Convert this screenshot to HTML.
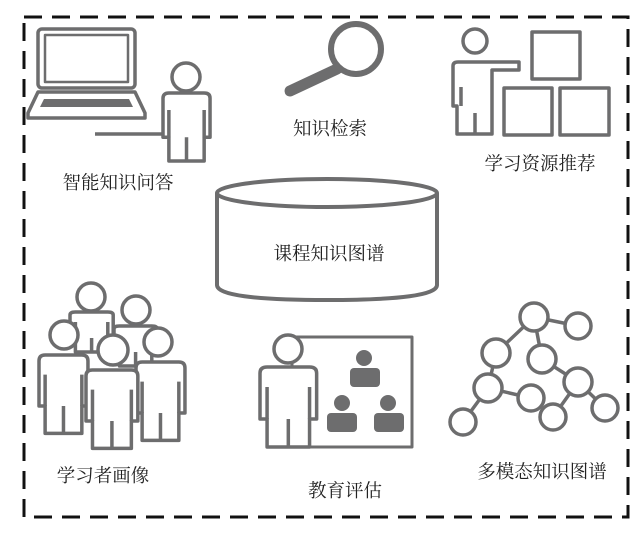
<!DOCTYPE html>
<html><head><meta charset="utf-8"><style>
body{margin:0;background:#fff;}
svg{display:block}
text{font-family:"Liberation Serif","Noto Serif CJK SC","Noto Sans CJK SC",serif;font-size:18.5px;fill:#222;text-anchor:middle}
.o{fill:#fff;stroke:#6d6d6e;stroke-width:3.5;vector-effect:non-scaling-stroke;stroke-linejoin:round}
.l{fill:none;stroke:#6d6d6e;stroke-width:3.5;vector-effect:non-scaling-stroke}
</style></head><body>
<svg width="642" height="534" viewBox="0 0 642 534">
<defs>
<g id="p">
<path class="o" d="M6,0 H42 Q48,0 48,6 V52 H42 V80 H6 V52 H0 V6 Q0,0 6,0 Z"/>
<path class="l" d="M6,20 V52 M42,20 V52 M24,52 V80"/>
</g>
</defs>
<rect x="24" y="17" width="604" height="500" fill="none" stroke="#111" stroke-width="3" stroke-dasharray="18 10"/>

<!-- laptop -->
<rect x="38" y="29" width="97" height="59" rx="4" class="o"/>
<rect x="45" y="35" width="83" height="47" class="o" style="stroke-width:2.5"/>
<path class="o" d="M38,92 H135 L145,113 V118 H28 V113 Z"/>
<path d="M44,99 H129 L133,107 H40 Z" fill="#6d6d6e"/>
<line x1="95" y1="134" x2="170" y2="134" class="l"/>
<circle cx="186" cy="77" r="14" class="o"/>
<use href="#p" transform="translate(163,93) scale(0.98,0.85)"/>

<!-- magnifier -->
<line x1="337" y1="69" x2="290" y2="91" stroke="#6d6d6e" stroke-width="11" stroke-linecap="round"/>
<circle cx="356" cy="49" r="25" fill="#fff" stroke="#6d6d6e" stroke-width="6"/>
<text x="330" y="135">知识检索</text>

<!-- resources -->
<circle cx="475" cy="41" r="12" class="o"/>
<path class="o" d="M458,62 H519 V70 H492 V134 H457 V106 H453 V66 Q453,62 458,62 Z"/>
<path class="l" d="M461,87 V106 M475,113 V134"/>
<rect x="532" y="32" width="48" height="47" class="o"/>
<rect x="504" y="88" width="48" height="47" class="o"/>
<rect x="560" y="88" width="49" height="47" class="o"/>
<text x="540" y="170">学习资源推荐</text>
<text x="118" y="189">智能知识问答</text>

<!-- cylinder -->
<path class="o" style="stroke-width:4" d="M217,193 V285 Q217,300 327,300 Q437,300 437,285 V193"/>
<ellipse cx="327" cy="193" rx="110" ry="14" class="o" style="stroke-width:4"/>
<text x="329" y="260">课程知识图谱</text>

<!-- group -->
<circle cx="91" cy="297" r="14" class="o"/>
<circle cx="136" cy="310" r="14" class="o"/>
<use href="#p" transform="translate(70,312) scale(0.9,0.5)"/>
<use href="#p" transform="translate(114,326) scale(0.9,0.5)"/>
<circle cx="64" cy="335" r="14" class="o"/>
<use href="#p" transform="translate(39,355) scale(1.02,0.98)"/>
<circle cx="158" cy="342" r="14" class="o"/>
<use href="#p" transform="translate(136,362) scale(1.02,0.98)"/>
<circle cx="113" cy="350" r="15" class="o"/>
<use href="#p" transform="translate(86,370) scale(1.08,0.98)"/>
<text x="103" y="482">学习者画像</text>

<!-- education -->
<rect x="292" y="337" width="120" height="110" class="o" style="stroke-width:3"/>
<circle cx="288" cy="349" r="14" class="o"/>
<use href="#p" transform="translate(260,367) scale(1.18,1)"/>
<g fill="#6d6d6e">
<circle cx="364" cy="358" r="8"/><rect x="350" y="368" width="30" height="19" rx="4"/>
<circle cx="342" cy="403" r="8"/><rect x="327" y="413" width="30" height="19" rx="4"/>
<circle cx="388" cy="403" r="8"/><rect x="374" y="413" width="30" height="19" rx="4"/>
</g>
<text x="345" y="497">教育评估</text>

<!-- graph -->
<g class="l">
<path d="M534,317 L578,326 M534,317 L496,353 M534,317 L542,359 M496,353 L488,388 M542,359 L578,382 M488,388 L531,398 M488,388 L463,422 M578,382 L553,417 M578,382 L605,408"/>
</g>
<g class="o">
<circle cx="534" cy="317" r="14"/><circle cx="578" cy="326" r="13"/>
<circle cx="496" cy="353" r="14"/><circle cx="542" cy="359" r="14"/>
<circle cx="488" cy="388" r="14"/><circle cx="578" cy="382" r="14"/>
<circle cx="531" cy="398" r="13"/><circle cx="463" cy="422" r="13"/>
<circle cx="553" cy="417" r="13"/><circle cx="605" cy="408" r="13"/>
</g>
<text x="542" y="478">多模态知识图谱</text>
</svg>
</body></html>
